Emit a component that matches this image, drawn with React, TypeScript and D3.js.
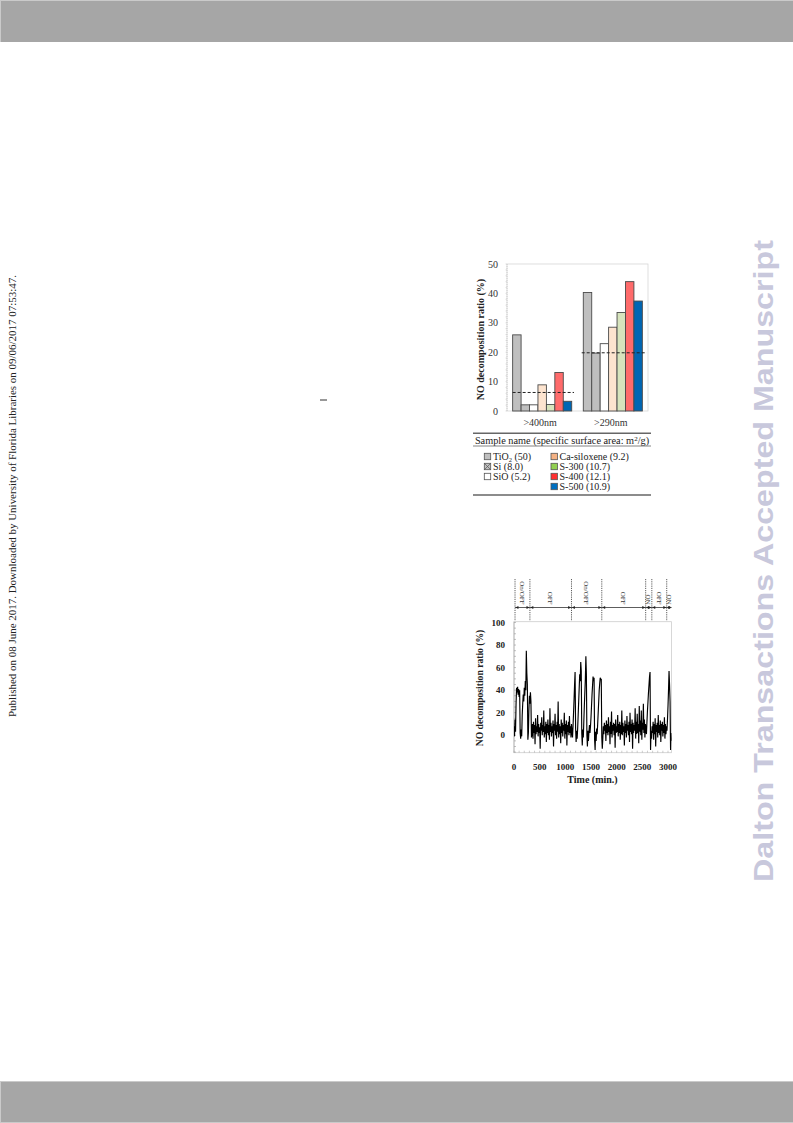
import React from "react";
import * as d3 from "d3";

// ---------- Bar chart data ----------
const wavelengths = [">400nm", ">290nm"];
const samples = ["TiO2", "Si", "SiO", "Ca-siloxene", "S-300", "S-400", "S-500"];
const surfaceAreas = ["50", "8.0", "5.2", "9.2", "10.7", "12.1", "10.9"];
const ratioVis = [25.9, 2.1, 2.1, 8.9, 2.2, 13.1, 3.3];
const ratioUV = [40.3, 19.7, 22.9, 28.5, 33.5, 44.0, 37.4];
const referenceLevels = [6.3, 19.8];
const barYTicks = [0, 10, 20, 30, 40, 50];
const barFill = ["#bfbfbf", "#bfbfbf", "#ffffff", "#fde4cf", "#d7e4bd", "#ff6b6b", "#0066b3"];
const legendFill = ["#bfbfbf", "#bfbfbf", "#ffffff", "#f4b183", "#92d050", "#ff3030", "#0070c0"];

// ---------- Time series data (NO decomposition ratio, %, every 10 min) ----------
const timeStep = 10;
const phaseStart = [0, 350, 1130, 1730, 2570, 2690, 2980];
const phaseA = [8, -1, 14, 3, 28, 42, 38, 43, 36, 41, 34, 40, 2, -3, 5, -1, 18, 28, 36, 30, 42, 35, 48, 40, 75, 55, 45, -4, 2, 22, 35, 28, 38, 30, -2];
const phaseB = [
  1, 10, -3, 12, 2, 9, -8, 15, 1, 8,
  3, 18, -1, 10, 2, 7, -12, 11, 4, 16,
  0, 9, 3, 22, -2, 8, 1, 12, -6, 10,
  2, 14, 0, 9, -4, 24, 3, 11, -1, 8,
  2, 13, -10, 10, 4, 19, 0, 9, -3, 12,
  3, 30, -2, 10, 1, 8, -7, 14, 2, 11,
  -1, 9, 4, 20, -3, 10, 1, 13, -9, 9,
  3, 12, 0, 17, 2, 8, -2, 10,
];
const phaseC = [
  3, -2, 8, 20, 32, 45, 56, 6, -6, 4,
  -3, 6, 18, 30, 42, 54, 48, 65, 57, 2,
  -9, 5, -2, 12, 26, 38, 50, 70, 54, 0,
  -10, 4, -5, 3, 9, 2, 8, 16, 26, 36,
  44, 52, 48, 51, -4, -13, 3, -5, 6, 1,
  10, 20, 30, 40, 46, 51, 49, 50, -2, -12,
];
const phaseD = [
  -3, 8, 1, 11, 4, 9, -5, 13, 2, 10,
  0, 16, 3, 8, -8, 12, 1, 21, -2, 9,
  4, 11, 0, 10, -11, 14, 2, 8, 3, 18,
  -1, 10, 2, 12, -4, 9, 1, 22, 0, 11,
  3, 8, -9, 13, 2, 10, -2, 17, 4, 9,
  0, 12, -6, 20, 3, 10, 1, 14, -12, 11,
  2, 9, 4, 24, -3, 12, 1, 19, 2, 10,
  -7, 26, 3, 13, 0, 22, -4, 11, 5, 28,
  2, 14, -2, 10,
];
const phaseE = [6, 1, 12, 22, 30, 38, 45, 52, 56, -13, 4, -3];
const phaseF = [
  8, 2, 12, -4, 10, 1, 15, -10, 9, 3,
  11, -2, 18, 2, 9, 0, 13, -6, 10, 4,
  12, -1, 9, 2, 16, -3, 10, 1, 8,
];
const phaseG = [4, 14, 26, 40, 57, 45, 30, -13, 2, -5];
const phaseValues = [phaseA, phaseB, phaseC, phaseD, phaseE, phaseF, phaseG];

const timeXTicks = [0, 500, 1000, 1500, 2000, 2500, 3000];
const timeYTicks = [0, 20, 40, 60, 80, 100];
const phaseLabels = ["On/OFF", "OFF", "On/OFF", "OFF", "ON", "OFF", "ON"];
const phaseBounds = [20, 310, 1120, 1710, 2565, 2685, 2975, 3070];

const serif = "'Liberation Serif', 'Times New Roman', serif";
const sans = "'Liberation Sans', Arial, sans-serif";

export default function App() {
  // ---- bar chart scales ----
  const bx = d3.scaleBand<string>().domain(wavelengths).range([507, 648]).paddingInner(0.164).paddingOuter(0.08);
  const bxi = d3.scaleBand<string>().domain(samples).range([0, bx.bandwidth()]);
  const by = d3.scaleLinear().domain([0, 50]).range([411, 264]);
  const groups = [ratioVis, ratioUV];
  const byMinor = d3.range(0, 51, 2);

  // ---- time chart scales ----
  const tx = d3.scaleLinear().domain([0, 3070]).range([514, 671.6]);
  const ty = d3.scaleLinear().domain([-15.5, 100]).range([752.7, 622.5]);
  const series = phaseValues.flatMap((vals, i) =>
    vals.map((v, j) => ({ t: phaseStart[i] + j * timeStep, v }))
  );
  const line = d3.line<{ t: number; v: number }>().x((d) => tx(d.t)).y((d) => ty(d.v));
  const tyMinor = d3.range(-15, 101, 5);
  const txMinor = d3.range(0, 3071, 100);
  const arrowY = 607.5;

  return (
    <svg width={793} height={1123} style={{ position: "absolute", left: 0, top: 0, display: "block", background: "#fff" }}>
      {/* header / footer bars */}
      <rect x={0} y={0} width={793} height={42} fill="#cacaca" />
      <rect x={1} y={1} width={792} height={41} fill="#a6a6a6" />
      <rect x={0} y={1081} width={793} height={42} fill="#cacaca" />
      <rect x={1} y={1082} width={792} height={40} fill="#a6a6a6" />

      {/* side texts */}
      <text transform="translate(15.5,496) rotate(-90)" textAnchor="middle" fontFamily={serif} fontSize={10} fill="#222" textLength={442} lengthAdjust="spacingAndGlyphs">
        Published on 08 June 2017. Downloaded by University of Florida Libraries on 09/06/2017 07:53:47.
      </text>
      <text transform="translate(773,561) rotate(-90)" textAnchor="middle" fontFamily={sans} fontWeight="bold" fontSize={28} fill="#c8c8dc" textLength={642} lengthAdjust="spacingAndGlyphs">
        Dalton Transactions Accepted Manuscript
      </text>
      <line x1={320} x2={327} y1={400} y2={400} stroke="#333" strokeWidth={1} />

      {/* ================= Bar chart ================= */}
      <rect x={507} y={264} width={141} height={147} fill="none" stroke="#d6d6d6" strokeWidth={0.8} />
      <line x1={507} x2={507} y1={264} y2={411} stroke="#c4c4c4" strokeWidth={0.8} strokeDasharray="1,1" />
      {byMinor.map((v) => (
        <line key={"bm" + v} x1={505.5} x2={507} y1={by(v)} y2={by(v)} stroke="#cfcfcf" strokeWidth={0.6} />
      ))}
      {barYTicks.map((v) => (
        <text key={"byt" + v} x={498} y={by(v)} dy="0.35em" textAnchor="end" fontFamily={serif} fontSize={10} fill="#333">
          {v}
        </text>
      ))}
      <text transform={`translate(484,${(by(0) + by(50)) / 2 + 2}) rotate(-90)`} textAnchor="middle" fontFamily={serif} fontWeight="bold" fontSize={10} fill="#222">
        NO decomposition ratio (%)
      </text>
      {groups.map((vals, gi) =>
        vals.map((v, si) => (
          <rect
            key={`bar${gi}-${si}`}
            x={(bx(wavelengths[gi]) as number) + (bxi(samples[si]) as number)}
            y={by(v)}
            width={bxi.bandwidth()}
            height={by(0) - by(v)}
            fill={barFill[si]}
            stroke="#4a4a4a"
            strokeWidth={0.9}
          />
        ))
      )}
      {referenceLevels.map((v, gi) => (
        <line
          key={"ref" + gi}
          x1={(bx(wavelengths[gi]) as number) - (gi === 0 ? 0 : 1.6)}
          x2={(bx(wavelengths[gi]) as number) + bx.bandwidth() + (gi === 0 ? 2.3 : 4.4)}
          y1={by(v)}
          y2={by(v)}
          stroke="#222"
          strokeWidth={1}
          strokeDasharray="3,2"
        />
      ))}
      {wavelengths.map((w) => (
        <text key={w} x={(bx(w) as number) + bx.bandwidth() / 2 - 2} y={426} textAnchor="middle" fontFamily={serif} fontSize={10} fill="#333">
          {w}
        </text>
      ))}

      {/* legend table */}
      <line x1={473} x2={651} y1={433.3} y2={433.3} stroke="#666" strokeWidth={1.6} />
      <text x={562} y={444} textAnchor="middle" fontFamily={serif} fontSize={10.3} fill="#222">
        Sample name (specific surface area: m<tspan dy={-3.5} fontSize={7}>2</tspan><tspan dy={3.5}>/g)</tspan>
      </text>
      <line x1={473} x2={651} y1={446} y2={446} stroke="#777" strokeWidth={0.9} />
      <line x1={473} x2={651} y1={495} y2={495} stroke="#666" strokeWidth={1.6} />
      {samples.map((s, i) => {
        const col = i < 3 ? 0 : 1;
        const row = i < 3 ? i : i - 3;
        const sx = col === 0 ? 484.3 : 551;
        const cy = 456.5 + row * 10;
        const tx0 = col === 0 ? 493 : 559.5;
        return (
          <g key={"lg" + s}>
            <rect x={sx} y={cy - 3.2} width={6.4} height={6.4} fill={legendFill[i]} stroke="#555" strokeWidth={0.8} />
            {s === "Si" && (
              <path d={`M${sx},${cy - 3.2}L${sx + 6.4},${cy + 3.2}M${sx + 6.4},${cy - 3.2}L${sx},${cy + 3.2}`} stroke="#555" strokeWidth={0.7} />
            )}
            {s === "TiO2" ? (
              <text x={tx0} y={cy} dy="0.35em" fontFamily={serif} fontSize={10} fill="#222">
                TiO<tspan fontSize={6.5} dy={2}>2</tspan><tspan dy={-2}>{` (${surfaceAreas[i]})`}</tspan>
              </text>
            ) : (
              <text x={tx0} y={cy} dy="0.35em" fontFamily={serif} fontSize={10} fill="#222">
                {`${s} (${surfaceAreas[i]})`}
              </text>
            )}
          </g>
        );
      })}

      {/* ================= Time series chart ================= */}
      <defs>
        <clipPath id="tsclip">
          <rect x={514} y={622.5} width={157.6} height={130.2} />
        </clipPath>
      </defs>
      <rect x={514} y={621.7} width={157.6} height={131} fill="none" stroke="#cdcdcd" strokeWidth={0.8} />
      <line x1={514} x2={514} y1={621.7} y2={752.7} stroke="#aaa" strokeWidth={0.7} />
      {tyMinor.map((v) => (
        <line key={"tym" + v} x1={514} x2={516} y1={ty(v)} y2={ty(v)} stroke="#999" strokeWidth={0.6} />
      ))}
      {txMinor.map((v) => (
        <line key={"txm" + v} x1={tx(v)} x2={tx(v)} y1={752.7} y2={750.7} stroke="#aaa" strokeWidth={0.6} />
      ))}
      <path d={line(series) || ""} fill="none" stroke="#000" strokeWidth={1.15} strokeLinejoin="miter" strokeMiterlimit={2} clipPath="url(#tsclip)" />
      {timeYTicks.map((v) => (
        <text key={"tyt" + v} x={505} y={ty(v)} dy="0.35em" textAnchor="end" fontFamily={serif} fontWeight="bold" fontSize={9} fill="#222">
          {v}
        </text>
      ))}
      {timeXTicks.map((v) => (
        <text key={"txt" + v} x={tx(v)} y={770} textAnchor="middle" fontFamily={serif} fontWeight="bold" fontSize={9} fill="#222">
          {v}
        </text>
      ))}
      <text x={592.5} y={782.5} textAnchor="middle" fontFamily={serif} fontWeight="bold" fontSize={10} fill="#222">
        Time (min.)
      </text>
      <text transform="translate(482.5,688) rotate(-90)" textAnchor="middle" fontFamily={serif} fontWeight="bold" fontSize={9.6} fill="#222">
        NO decomposition ratio (%)
      </text>

      {/* phase annotation */}
      <line x1={tx(phaseBounds[0])} x2={tx(phaseBounds[phaseBounds.length - 1])} y1={arrowY} y2={arrowY} stroke="#333" strokeWidth={0.8} />
      {phaseBounds.slice(0, -1).map((b, i) => (
        <line key={"pb" + i} x1={tx(b)} x2={tx(b)} y1={579} y2={621} stroke="#333" strokeWidth={0.8} strokeDasharray="1.2,1" />
      ))}
      {phaseLabels.map((lab, i) => {
        const x0 = tx(phaseBounds[i]);
        const x1 = tx(phaseBounds[i + 1]);
        const xm = (x0 + x1) / 2;
        return (
          <g key={"pl" + i}>
            <path d={`M${x0 + 0.4},${arrowY}L${x0 + 3.4},${arrowY - 1.6}L${x0 + 3.4},${arrowY + 1.6}Z`} fill="#222" />
            <path d={`M${x1 - 0.4},${arrowY}L${x1 - 3.4},${arrowY - 1.6}L${x1 - 3.4},${arrowY + 1.6}Z`} fill="#222" />
            <text transform={`translate(${xm},604.5) rotate(90)`} textAnchor="end" dy="0.35em" fontFamily={serif} fontSize={7} fill="#333">
              {lab}
            </text>
          </g>
        );
      })}
    </svg>
  );
}
